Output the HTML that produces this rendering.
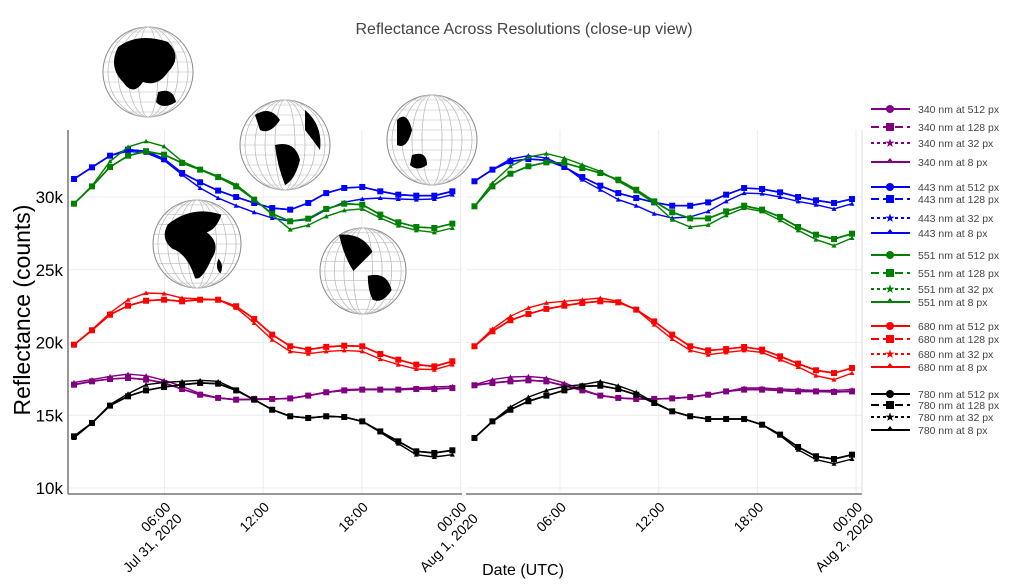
<!DOCTYPE html>
<html><head><meta charset="utf-8"><style>
html,body{margin:0;padding:0;background:#fff;}
svg{display:block;}
svg text{font-family:"Liberation Sans",Arial,sans-serif;}
</style></head><body>
<svg id="chart" width="1010" height="585" viewBox="0 0 1010 585" font-family="Liberation Sans, sans-serif">
<text x="524" y="34" text-anchor="middle" font-size="16" fill="#444">Reflectance Across Resolutions (close-up view)</text>
<g id="grid"></g>
<g id="globes"></g>
<g id="series"></g>
<g id="axes"></g>
<g id="legend"></g>
<text transform="translate(30,310) rotate(-90)" text-anchor="middle" font-size="23" fill="#000">Reflectance (counts)</text>
<text x="523" y="575" text-anchor="middle" font-size="16" fill="#000">Date (UTC)</text>
</svg>
<script>
// ---- data (values in thousands of counts) ----
const yTicks = [10, 15, 20, 25, 30];
const yTickLabels = ["10k", "15k", "20k", "25k", "30k"];
const xTickHours = [6, 12, 18, 24];
const xTickLabelsLeft = [["06:00","Jul 31, 2020"],["12:00",""],["18:00",""],["00:00","Aug 1, 2020"]];
const xTickLabelsRight = [["06:00",""],["12:00",""],["18:00",""],["00:00","Aug 2, 2020"]];
const hoursLeftStart = 0.5, hoursLeftEnd = 23.5;
const hoursRightStart = 0.8, hoursRightEnd = 23.75;

const day1_340_hi = [17.1,17.33,17.49,17.56,17.45,17.22,16.8,16.41,16.19,16.07,16.12,16.12,16.16,16.35,16.58,16.71,16.76,16.76,16.76,16.8,16.8,16.87];
const day1_340_lo = [17.26,17.45,17.67,17.83,17.72,17.4,16.99,16.49,16.19,16.07,16.07,16.12,16.16,16.35,16.58,16.76,16.8,16.8,16.8,16.87,16.94,16.99];
const day1_443_hi = [31.24,32.04,32.84,33.25,33.14,32.61,31.65,31.01,30.44,30.0,29.59,29.24,29.13,29.59,30.27,30.62,30.69,30.39,30.16,30.09,30.09,30.39];
const day1_443_lo = [31.24,32.04,32.84,33.14,33.03,32.52,31.53,30.62,29.93,29.4,28.95,28.56,28.33,28.45,29.13,29.64,29.86,29.93,29.86,29.82,29.86,30.16];
const day1_551_hi = [29.54,30.73,32.06,32.84,33.14,32.91,32.34,31.88,31.37,30.73,29.82,28.85,28.33,28.51,29.18,29.54,29.47,28.79,28.26,27.94,27.87,28.17];
const day1_551_lo = [29.54,30.77,32.45,33.44,33.83,33.48,32.45,31.92,31.42,30.85,29.86,28.79,27.76,28.06,28.67,29.08,29.18,28.56,28.03,27.71,27.57,27.87];
const day1_680_hi = [19.85,20.84,21.91,22.53,22.87,22.94,22.83,22.94,22.94,22.49,21.62,20.54,19.74,19.51,19.7,19.78,19.74,19.21,18.82,18.48,18.36,18.71];
const day1_680_lo = [19.85,20.88,22.03,22.94,23.4,23.36,23.06,22.99,22.94,22.38,21.34,20.19,19.39,19.23,19.39,19.46,19.39,18.86,18.48,18.18,18.13,18.48];
const day1_780_hi = [13.55,14.47,15.66,16.3,16.71,16.94,17.1,17.22,17.17,16.71,16.07,15.38,14.93,14.81,14.93,14.88,14.58,13.89,13.21,12.52,12.41,12.59];
const day1_780_lo = [13.44,14.47,15.73,16.48,17.1,17.26,17.33,17.4,17.33,16.76,16.07,15.38,14.93,14.81,14.93,14.88,14.58,13.83,13.05,12.29,12.13,12.29];

const day2_340_hi = [17.06,17.22,17.33,17.4,17.33,17.03,16.71,16.35,16.19,16.12,16.12,16.16,16.25,16.41,16.64,16.76,16.76,16.71,16.64,16.64,16.6,16.64];
const day2_340_lo = [17.1,17.45,17.63,17.67,17.56,17.22,16.76,16.35,16.19,16.12,16.12,16.16,16.25,16.41,16.64,16.87,16.87,16.8,16.76,16.71,16.71,16.76];
const day2_443_hi = [31.08,31.88,32.45,32.61,32.52,32.06,31.37,30.78,30.27,29.93,29.63,29.4,29.4,29.63,30.16,30.62,30.55,30.32,30.0,29.77,29.59,29.86];
const day2_443_lo = [31.08,31.88,32.61,32.84,32.68,32.11,31.19,30.5,29.82,29.4,28.85,28.56,28.63,29.01,29.7,30.27,30.23,30.0,29.7,29.47,29.18,29.54];
const day2_551_hi = [29.36,30.73,31.6,32.11,32.38,32.34,31.99,31.65,31.19,30.5,29.7,28.95,28.53,28.53,29.01,29.4,29.13,28.63,27.94,27.41,27.11,27.48];
const day2_551_lo = [29.36,30.96,32.11,32.75,32.98,32.68,32.22,31.76,31.08,30.39,29.59,28.44,27.94,28.08,28.74,29.24,29.01,28.4,27.71,27.07,26.66,27.18];
const day2_680_hi = [19.74,20.77,21.53,21.96,22.31,22.53,22.72,22.83,22.76,22.26,21.45,20.54,19.74,19.46,19.55,19.69,19.51,19.05,18.55,18.09,17.9,18.25];
const day2_680_lo = [19.74,20.93,21.8,22.38,22.72,22.83,22.94,23.06,22.83,22.26,21.23,20.24,19.46,19.16,19.32,19.46,19.32,18.82,18.32,17.72,17.45,17.9];
const day2_780_hi = [13.44,14.58,15.38,15.96,16.35,16.71,16.99,17.03,16.8,16.41,15.84,15.27,14.93,14.74,14.74,14.74,14.35,13.67,12.82,12.18,11.99,12.29];
const day2_780_lo = [13.44,14.58,15.57,16.25,16.71,16.99,17.1,17.33,17.03,16.58,15.89,15.27,14.93,14.74,14.74,14.74,14.35,13.6,12.63,11.95,11.67,11.99];

const wavelengths = ["340","443","551","680","780"];
const colors = ["#800080","#0000ff","#008000","#ff0000","#000000"];
const resolutions = ["512","128","32","8"];

// ---- layout ----
const NS = "http://www.w3.org/2000/svg";
function mk(tag, attrs, parent){ const e=document.createElementNS(NS,tag); for(const k in attrs) e.setAttribute(k,attrs[k]); parent.appendChild(e); return e; }
const FF = '"Liberation Sans", Arial, sans-serif';
const yTop=130, yBot=494;
function yScale(v){ return 488 - (v-10)*14.55; }
const panels = [
  {x0:68, x1:462, xh:h=>74+(h-0.5)*16.45, labels:xTickLabelsLeft, start:hoursLeftStart, end:hoursLeftEnd,
   data:[[day1_340_hi,day1_340_lo],[day1_443_hi,day1_443_lo],[day1_551_hi,day1_551_lo],[day1_680_hi,day1_680_lo],[day1_780_hi,day1_780_lo]]},
  {x0:466, x1:862, xh:h=>461.3+h*16.45, labels:xTickLabelsRight, start:hoursRightStart, end:hoursRightEnd,
   data:[[day2_340_hi,day2_340_lo],[day2_443_hi,day2_443_lo],[day2_551_hi,day2_551_lo],[day2_680_hi,day2_680_lo],[day2_780_hi,day2_780_lo]]}
];
const grid=document.getElementById('grid'), axes=document.getElementById('axes'), series=document.getElementById('series');

panels.forEach((p,pi)=>{
  yTicks.forEach(t=>{ const l=mk('line',{x1:p.x0,x2:p.x1,y1:yScale(t),y2:yScale(t),stroke:'#ececec','stroke-width':1},grid);
      });
  xTickHours.forEach((h,i)=>{ const x=p.xh(h);
    const l=mk('line',{x1:x,x2:x,y1:yTop,y2:yBot,stroke:'#ececec','stroke-width':1},grid);
     
    const g=mk('text',{transform:`translate(${x+7},${yBot+14}) rotate(-45)`,'text-anchor':'end','font-size':14,fill:'#000','font-family':FF},axes);
     
    const a=mk('tspan',{x:0,dy:0},g); a.textContent=p.labels[i][0];
    if(p.labels[i][1]){ const b=mk('tspan',{x:0,dy:16},g); b.textContent=p.labels[i][1]; }
  });
  const ax=mk('line',{x1:p.x0,x2:p.x1,y1:yBot,y2:yBot,stroke:'#777','stroke-width':1.5},axes);
   
  p.data.forEach((pair,ci)=>{
    const n=pair[0].length;
    const hx=i=>p.xh(p.start+(p.end-p.start)*i/(n-1));
    [[pair[1],1.4,'tri'],[pair[0],1.6,'sq'],[pair[0],1.6,'circ']].forEach(([arr,w,m])=>{
      const d=arr.map((v,i)=>(i?'L':'M')+hx(i).toFixed(1)+','+yScale(v).toFixed(1)).join('');
      const path=mk('path',{d:d,fill:'none',stroke:colors[ci],'stroke-width':w},series);
      
      
      arr.forEach((v,i)=>{ const x=hx(i), y=yScale(v); let e;
        if(m==='sq') e=mk('rect',{x:x-3,y:y-3,width:6,height:6,fill:colors[ci]},series);
        else if(m==='circ') e=mk('circle',{cx:x,cy:y,r:2.2,fill:colors[ci]},series);
        else e=mk('path',{d:`M${x-2.5},${y+2}L${x+2.5},${y+2}L${x},${y-2.5}Z`,fill:colors[ci]},series);
        
        
      });
    });
  });
});
const yax=mk('line',{x1:68,x2:68,y1:yTop,y2:yBot,stroke:'#777','stroke-width':1.5},axes);
 
const rax=mk('line',{x1:862,x2:862,y1:yTop,y2:yBot,stroke:'#ddd','stroke-width':1},axes);
 
yTicks.forEach((t,i)=>{ const e=mk('text',{x:63,y:yScale(t)+6,'text-anchor':'end','font-size':17,fill:'#000','font-family':FF},axes);
  e.textContent=yTickLabels[i];   });

// ---- globes ----
const globeSpots=[[148,72,45],[285,145,45],[432,140,45],[197,244,44],[363,271,43]];
const globes=document.getElementById('globes');
const blobs=[
 "M-30,-25 Q-10,-40 20,-30 Q35,-15 20,0 Q10,15 -5,10 Q-15,25 -25,10 Q-40,-5 -30,-25Z M10,20 Q25,15 28,30 Q15,38 8,30Z",
 "M-30,-30 Q-15,-40 -5,-25 Q-15,-10 -25,-15Z M-10,0 Q10,-5 15,15 Q10,35 0,40 Q-8,20 -10,0Z M20,-35 Q38,-20 35,5 Q28,-5 20,-15Z",
 "M-35,-20 Q-25,-30 -20,-10 Q-25,10 -35,5Z M-20,15 Q-5,10 -5,25 Q-15,32 -22,25Z",
 "M-30,-20 Q-5,-40 25,-30 Q20,-15 10,-12 Q25,0 15,15 Q5,38 -2,35 Q-10,10 -25,5 Q-38,-5 -30,-20Z M22,15 Q28,22 24,30 Q18,25 22,15Z",
 "M-25,-38 Q0,-40 10,-20 Q0,-10 -10,0 Q-20,-15 -25,-38Z M5,5 Q25,0 30,20 Q20,35 10,30 Q5,20 5,5Z"
];
globeSpots.forEach(([cx,cy,r],gi)=>{
  const g=mk('g',{transform:`translate(${cx},${cy})`},globes);
   
  mk('circle',{cx:0,cy:0,r:r,fill:'#fff',stroke:'#888','stroke-width':1},g);
  for(let k=-4;k<=4;k++){ mk('ellipse',{cx:0,cy:0,rx:Math.abs(r*k/4.5),ry:r,fill:'none',stroke:'#bbb','stroke-width':0.6},g);
    const yy=r*k/4.5, hw=Math.sqrt(r*r-yy*yy); mk('line',{x1:-hw,x2:hw,y1:yy,y2:yy,stroke:'#bbb','stroke-width':0.6},g); }
  const s=r/45; mk('path',{d:blobs[gi],fill:'#000',transform:`scale(${s})`},g);
});

// ---- legend ----
const legend=document.getElementById('legend');
const rowY=[[109,127,143,162],[187,199,218,233],[255,273,289,302],[326,339,354,367],[394,405,417,430]];
wavelengths.forEach((w,ci)=>{ resolutions.forEach((r,ri)=>{
  const y=rowY[ci][ri]; const g=mk('g',{},legend);
   
  const dash = ri===2?'3,3':(ri===1?'8,4':'none');
  mk('line',{x1:871,x2:910,y1:y,y2:y,stroke:colors[ci],'stroke-width':2,'stroke-dasharray':dash},g);
  if(ri===0) mk('circle',{cx:890,cy:y,r:4,fill:colors[ci]},g);
  else if(ri===1) mk('rect',{x:886,y:y-4,width:8,height:8,fill:colors[ci]},g);
  else if(ri===2){ const t=mk('text',{x:890,y:y+4,'text-anchor':'middle','font-size':12,fill:colors[ci],'font-family':'"DejaVu Sans", sans-serif'},g); t.textContent='★'; }
  else mk('path',{d:`M886,${y+1}L894,${y+1}L890,${y-4}Z`,fill:colors[ci]},g);
  const t=mk('text',{x:918,y:y+4,'font-size':10.5,fill:'#444','font-family':FF},g); t.textContent=`${w} nm at ${r} px`;
});});
</script>
</body></html>
